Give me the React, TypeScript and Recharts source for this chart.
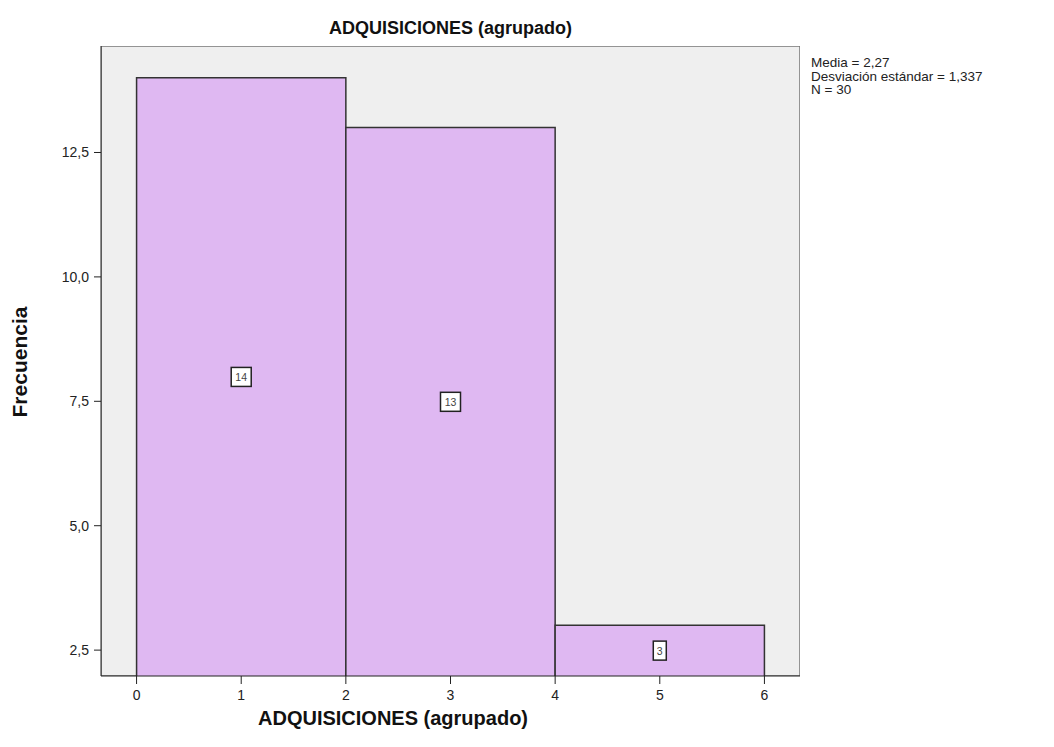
import React from 'react'
import { ComposedChart, XAxis, YAxis, ReferenceArea, Scatter } from 'recharts'

// bins of the histogram (ADQUISICIONES agrupado)
const binStart = [0, 2, 4]
const binEnd = [2, 4, 6]
const counts = [14, 13, 3]
const xTicks = [0, 1, 2, 3, 4, 5, 6]
const yTicks = [2.5, 5, 7.5, 10, 12.5]
const statLines = ['Media = 2,27', 'Desviación estándar = 1,337', 'N = 30']

const X_MIN = -0.34
const X_MAX = 6.34
const Y_MIN = 1.98
const Y_MAX = 14.64

const FONT = 'Arial, "Liberation Sans", sans-serif'

const labelData = counts.map((c, i) => ({
  x: (binStart[i] + binEnd[i]) / 2,
  y: (c + Y_MIN) / 2,
  n: c,
}))

const CountBox = (props: any) => {
  const { cx, cy, payload } = props
  const w = payload.n >= 10 ? 20 : 13
  return (
    <g>
      <rect x={cx - w / 2} y={cy - 9.5} width={w} height={19} fill="#fff" stroke="#222" strokeWidth={1.5} />
      <text x={cx} y={cy + 4} textAnchor="middle" fontSize={10.5} fontFamily={FONT} fill="#444">
        {payload.n}
      </text>
    </g>
  )
}

const fmt = (v: number) => v.toFixed(1).replace('.', ',')

const App = () => {
  return (
    <div style={{ position: 'absolute', left: 0, top: 0, width: 1054, height: 747, fontFamily: FONT }}>
      <div
        style={{
          position: 'absolute',
          left: 101,
          width: 699,
          top: 17,
          lineHeight: '22px',
          textAlign: 'center',
          fontWeight: 'bold',
          fontSize: 18,
          color: '#111',
          whiteSpace: 'nowrap',
        }}
      >
        ADQUISICIONES (agrupado)
      </div>
      <div
        style={{
          position: 'absolute',
          left: 811,
          top: 56,
          fontSize: 13.5,
          lineHeight: '13.5px',
          color: '#222',
          whiteSpace: 'nowrap',
        }}
      >
        {statLines.map((s) => (
          <div key={s}>{s}</div>
        ))}
      </div>
      <div
        style={{
          position: 'absolute',
          left: 258,
          top: 706,
          lineHeight: '24px',
          fontWeight: 'bold',
          fontSize: 20,
          color: '#111',
          whiteSpace: 'nowrap',
        }}
      >
        ADQUISICIONES (agrupado)
      </div>
      <div
        style={{
          position: 'absolute',
          left: -80,
          top: 350,
          width: 200,
          lineHeight: '24px',
          textAlign: 'center',
          fontWeight: 'bold',
          fontSize: 21,
          color: '#111',
          transform: 'rotate(-90deg)',
        }}
      >
        Frecuencia
      </div>
      <ComposedChart
        width={1054}
        height={747}
        margin={{ top: 46, right: 254, bottom: 41, left: 0 }}
      >
        <XAxis
          type="number"
          dataKey="x"
          domain={[X_MIN, X_MAX]}
          ticks={xTicks}
          allowDataOverflow
          height={30}
          stroke="#222"
          tickSize={8}
          tickMargin={6}
          tick={{ fontSize: 14, fill: '#222', fontFamily: FONT }}
        />
        <YAxis
          type="number"
          dataKey="y"
          domain={[Y_MIN, Y_MAX]}
          ticks={yTicks}
          allowDataOverflow
          width={101}
          stroke="#222"
          tickSize={7}
          tickMargin={5}
          tickFormatter={fmt}
          tick={{ fontSize: 14, fill: '#222', fontFamily: FONT }}
        />
        <ReferenceArea
          x1={X_MIN}
          x2={X_MAX}
          y1={Y_MIN}
          y2={Y_MAX}
          fill="#efefef"
          fillOpacity={1}
          stroke="#777"
          strokeWidth={1.5}
          ifOverflow="hidden"
        />
        {counts.map((c, i) => (
          <ReferenceArea
            key={i}
            x1={binStart[i]}
            x2={binEnd[i]}
            y1={0}
            y2={c}
            fill="#dfb8f2"
            fillOpacity={1}
            stroke="#333"
            strokeWidth={1.5}
            ifOverflow="hidden"
          />
        ))}
        <Scatter data={labelData} dataKey="y" shape={CountBox} isAnimationActive={false} />
      </ComposedChart>
    </div>
  )
}

export default App
